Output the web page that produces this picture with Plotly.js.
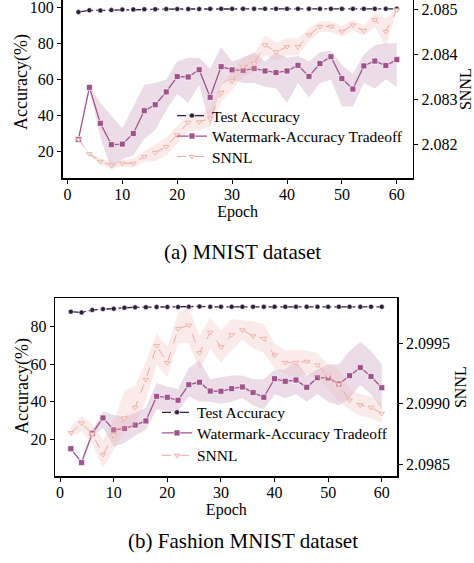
<!DOCTYPE html>
<html>
<head>
<meta charset="utf-8">
<script src="https://cdn.plot.ly/plotly-3.0.1.min.js"></script>
<style>html,body{margin:0;padding:0;background:#fff;}#chart{width:474px;height:563px;}</style>
</head>
<body>
<div id="chart"></div>
<script>
// ---------- data ----------
const epochs = [2,4,6,8,10,12,14,16,18,20,22,24,26,28,30,32,34,36,38,40,42,44,46,48,50,52,54,56,58,60];

// (a) MNIST
const testAccMNIST = [97.3,98.3,98.2,98.4,98.7,98.8,98.9,98.9,99.0,99.0,99.0,99.0,99.1,99.1,99.1,99.1,99.1,99.1,99.1,99.1,99.1,99.1,99.1,99.1,99.1,99.1,99.1,99.1,99.1,99.1];
const wmMNIST      = [26.8,55.6,35.7,23.9,24.2,30.1,42.7,46.0,53.1,61.6,61.4,65.4,50.1,67.1,65.3,65.0,66.0,64.7,63.8,64.7,67.8,61.7,68.8,72.6,60.5,54.7,67.5,70.2,67.7,71.0];
const wmMNISTLow   = [26.8,55.0,28,10,16,18,27,32,43,52,47,57,34,57,60,58,58,56,55,47,58,50,58,60,45,45,58,55,60,56];
const wmMNISTHigh  = [26.8,56.2,47,40,33,45,57,58,60,70,72,72,66,78,70,72,75,70,75,72,73,70,75,76,68,63,74,79,80,80];
const snnlMNIST     = [2.08210,2.08178,2.08161,2.08153,2.08157,2.08157,2.08172,2.08181,2.08194,2.08220,2.08248,2.08249,2.08257,2.08314,2.08340,2.08372,2.08379,2.08420,2.08405,2.08416,2.08416,2.08442,2.08461,2.08461,2.08450,2.08464,2.08452,2.08476,2.08450,2.08498];
const snnlMNISTLow  = [2.08210,2.08174,2.08155,2.08145,2.08150,2.08147,2.08160,2.08163,2.08174,2.08200,2.08228,2.08231,2.08237,2.08294,2.08320,2.08350,2.08359,2.08398,2.08385,2.08396,2.08398,2.08427,2.08449,2.08449,2.08438,2.08452,2.08440,2.08461,2.08416,2.08496];
const snnlMNISTHigh = [2.08210,2.08182,2.08167,2.08161,2.08164,2.08167,2.08184,2.08199,2.08214,2.08240,2.08268,2.08267,2.08277,2.08334,2.08360,2.08394,2.08399,2.08442,2.08425,2.08436,2.08434,2.08457,2.08473,2.08473,2.08462,2.08476,2.08464,2.08491,2.08479,2.08500];

// (b) Fashion MNIST
const testAccFashion = [88.0,87.6,88.9,89.4,89.6,90.1,90.3,90.4,90.5,90.5,90.5,90.6,90.8,90.6,90.6,90.6,90.6,90.6,90.6,90.6,90.6,90.6,90.6,90.6,90.6,90.6,90.6,90.6,90.6,90.6];
const wmFashion      = [15.0,7.6,23.2,31.4,25.0,25.7,27.6,29.8,42.9,42.4,40.8,49.1,50.4,45.7,45.6,47.0,47.9,44.9,42.4,52.3,50.9,51.6,47.7,52.8,52.7,49.5,53.9,58.2,53.5,47.5];
const wmFashionLow   = [15.0,7.0,22,26,16,18,22,25,36,35,35,43,40,40,39,40,42,38,36,44,42,44,40,44,40,38,42,49,44,36];
const wmFashionHigh  = [15.0,8.2,25,35,33,32,34,37,50,48,47,58,62,52,53,54,54,52,52,57,57,62,54,57,60,60,67,72,67,60];
const snnlFashion     = [2.09876,2.09884,2.09875,2.09858,2.09874,2.09888,2.09897,2.09920,2.09948,2.09934,2.09962,2.09965,2.09942,2.09959,2.09947,2.09957,2.09961,2.09956,2.09954,2.09940,2.09934,2.09934,2.09935,2.09932,2.09923,2.09916,2.09903,2.09899,2.09897,2.09892];
const snnlFashionLow  = [2.09873,2.09877,2.09867,2.09847,2.09862,2.09878,2.09882,2.09903,2.09932,2.09922,2.09950,2.09950,2.09928,2.09945,2.09934,2.09944,2.09953,2.09946,2.09942,2.09929,2.09925,2.09922,2.09925,2.09922,2.09912,2.09902,2.09895,2.09890,2.09888,2.09884];
const snnlFashionHigh = [2.09881,2.09890,2.09883,2.09870,2.09886,2.09911,2.09915,2.09935,2.09958,2.09947,2.09975,2.09980,2.09956,2.09971,2.09961,2.09970,2.09969,2.09968,2.09966,2.09950,2.09944,2.09945,2.09944,2.09942,2.09932,2.09928,2.09912,2.09908,2.09906,2.09900];

const seriesNames = ["Test Accuracy","Watermark-Accuracy Tradeoff","SNNL"];
const captions = ["(a) MNIST dataset","(b) Fashion MNIST dataset"];
const yTitle = "Accuracy(%)";

// ---------- styles ----------
const C_TEST = "#2d1e3e", C_WM = "#a0528c", C_SN = "#eaa9a0";
const F = "Liberation Serif, Times New Roman, serif";

function band(x, lo, hi, xa, ya, color) {
  return {x: x.concat(x.slice().reverse()), y: hi.concat(lo.slice().reverse()),
    xaxis: xa, yaxis: ya, type: "scatter", mode: "lines", fill: "toself",
    fillcolor: color, line: {width: 0}, hoverinfo: "skip", showlegend: false};
}
function panel(xa, yl, yr, legs, test, wm, wmLo, wmHi, sn, snLo, snHi) {
  return [
    band(epochs, wmLo, wmHi, xa, yl, "rgba(160,82,140,0.20)"),
    band(epochs, snLo, snHi, xa, yr, "rgba(236,175,170,0.25)"),
    {x: epochs, y: sn, xaxis: xa, yaxis: yr, type: "scatter", mode: "lines+markers", name: seriesNames[2], legend: legs[2],
     line: {color: C_SN, width: 1, dash: "dash"}, marker: {symbol: "triangle-down", size: 5, color: "#fbe6e2", line: {color: C_SN, width: 0.8}}},
    {x: epochs, y: test, xaxis: xa, yaxis: yl, type: "scatter", mode: "lines+markers", name: seriesNames[0], legend: legs[0],
     line: {color: C_TEST, width: 1.3, dash: "dashdot"}, marker: {symbol: "circle", size: 5, color: C_TEST, line: {color: "#fff", width: 0.5}}},
    {x: epochs, y: wm, xaxis: xa, yaxis: yl, type: "scatter", mode: "lines+markers", name: seriesNames[1], legend: legs[1],
     line: {color: C_WM, width: 1.3}, marker: {symbol: "square", size: 6, color: C_WM, line: {color: "#fff", width: 0.7}}}
  ];
}

const traces = [].concat(
  panel("x", "y", "y2", ["legend","legend2","legend3"], testAccMNIST, wmMNIST, wmMNISTLow, wmMNISTHigh, snnlMNIST, snnlMNISTLow, snnlMNISTHigh),
  panel("x2", "y3", "y4", ["legend4","legend5","legend6"], testAccFashion, wmFashion, wmFashionLow, wmFashionHigh, snnlFashion, snnlFashionLow, snnlFashionHigh)
);

const tickF = {family: F, size: 16, color: "#000"};
const titleF = {family: F, size: 16, color: "#000"};
function xax(domain, anchor) {
  return {domain: domain, anchor: anchor, range: [-0.9, 62.9], tickvals: [0,10,20,30,40,50,60],
    showline: true, mirror: true, linecolor: "#000", linewidth: 1.5, ticks: "outside", ticklen: 4, tickwidth: 1, tickcolor: "#000",
    ticklabelstandoff: -3, ticklabeloverflow: "allow",
    showgrid: false, zeroline: false, tickfont: tickF, title: {text: "Epoch", font: titleF, standoff: 0}, automargin: false};
}
function yl(domain, anchor, range, tv) {
  return {domain: domain, anchor: anchor, range: range, tickvals: tv, showline: true, linecolor: "#000", linewidth: 1.5,
    ticks: "outside", ticklen: 4, tickwidth: 1, tickcolor: "#000", showgrid: false, zeroline: false, tickfont: tickF,
    ticklabeloverflow: "allow", automargin: false};
}
function yr(overlay, anchor, range, tv, fmt) {
  return {overlaying: overlay, anchor: anchor, side: "right", range: range, tickvals: tv, tickformat: fmt, showline: true,
    linecolor: "#000", linewidth: 1.5, ticks: "outside", ticklen: 4, tickwidth: 1, tickcolor: "#000", showgrid: false,
    ticklabeloverflow: "allow",
    zeroline: false, tickfont: tickF, title: {text: "SNNL", font: titleF, standoff: 6}, automargin: false};
}
function leg(xLeft, yCenter) {
  return {x: xLeft/474, y: 1 - yCenter/563, xanchor: "left", yanchor: "middle", bgcolor: "rgba(0,0,0,0)", borderwidth: 0,
    font: {family: F, size: 15.5, color: "#000"}};
}
function txt(text, x, y, size, angle) {
  return {text: text, xref: "paper", yref: "paper", x: x/474, y: 1 - y/563, xanchor: "center", yanchor: "middle",
    showarrow: false, textangle: angle || 0, font: {family: F, size: size, color: "#000"}};
}

const layout = {
  width: 474, height: 563, margin: {l: 0, r: 0, t: 0, b: 0}, paper_bgcolor: "#fff", plot_bgcolor: "rgba(0,0,0,0)",
  font: {family: F, color: "#000"},
  xaxis: xax([62.5/474, 412.7/474], "y"),
  yaxis: yl([1 - 178.3/563, 1], "x", [5.26, 104.0], [20,40,60,80,100]),
  yaxis2: yr("y", "x", [2.081238, 2.0852], [2.082, 2.083, 2.084, 2.085], ".3f"),
  xaxis2: xax([55.3/474, 397.3/474], "y3"),
  yaxis3: yl([1 - 476/563, 1 - 298.3/563], "x2", [0.45, 95.13], [20,40,60,80]),
  yaxis4: yr("y3", "x2", [2.098403, 2.099872], [2.0985, 2.0990, 2.0995], ".4f"),
  legend:  leg(172, 116),
  legend2: leg(172, 136.5),
  legend3: leg(172, 157),
  legend4: leg(157, 412.7),
  legend5: leg(157, 433.3),
  legend6: leg(157, 455.7),
  annotations: [
    txt(yTitle, 22, 82, 18, -90),
    txt(yTitle, 22, 386, 18, -90),
    txt(captions[0], 243, 252, 21),
    txt(captions[1], 243, 541, 21)
  ],
  showlegend: true
};

Plotly.newPlot("chart", traces, layout, {staticPlot: true, displayModeBar: false});
</script>
</body>
</html>
